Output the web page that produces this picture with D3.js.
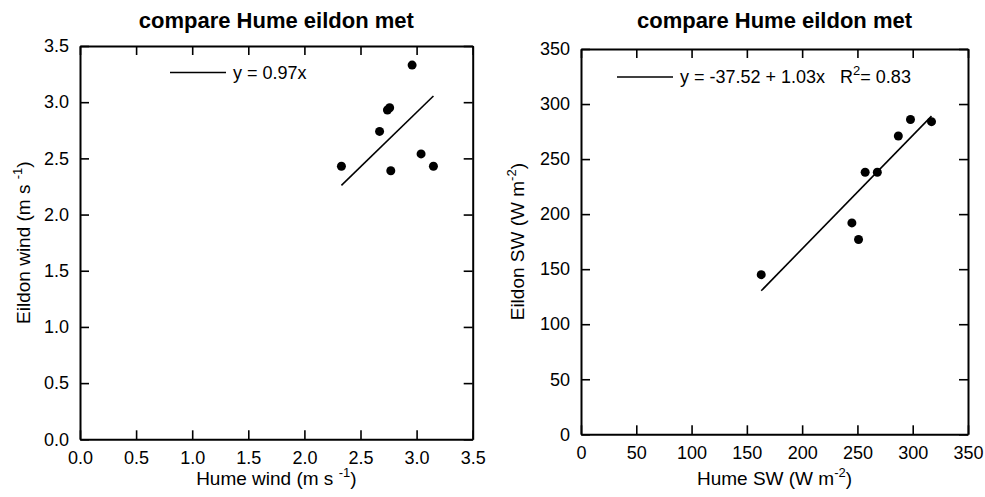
<!DOCTYPE html>
<html>
<head>
<meta charset="utf-8">
<script src="https://cdn.jsdelivr.net/npm/d3@7"></script>
<style>
  body { margin: 0; background: #fff; }
  svg { display: block; font-family: "Liberation Sans", Arial, sans-serif; }
  text { white-space: pre; }
</style>
</head>
<body>
<svg id="chart" width="985" height="497"></svg>
<script>
// ---- data ----
const windHume   = [2.33, 2.67, 2.74, 2.76, 2.96, 2.77, 3.04, 3.15];
const windEildon = [2.43, 2.74, 2.93, 2.95, 3.33, 2.39, 2.54, 2.43];
const windSlope = 0.97;
const windTicks = [0, 0.5, 1.0, 1.5, 2.0, 2.5, 3.0, 3.5];

const swHume   = [163, 245, 251, 257, 268, 287, 298, 317];
const swEildon = [145, 192, 177, 238, 238, 271, 286, 284];
const swIntercept = -37.52;
const swSlope = 1.03;
const swR2 = "0.83";
const swTicks = [0, 50, 100, 150, 200, 250, 300, 350];

const titleText = "compare Hume eildon met";

const svg = d3.select("#chart");

function panel(opts) {
  const g = svg.append("g");
  const x = d3.scaleLinear().domain(opts.domain).range([opts.x0, opts.x1]);
  const y = d3.scaleLinear().domain(opts.domain).range([opts.y1, opts.y0]);
  const tickLen = 9;

  const styleAxis = sel => {
    sel.select(".domain").attr("stroke", "#000").attr("stroke-width", 2);
    sel.selectAll(".tick line").attr("stroke", "#000").attr("stroke-width", 1.6);
    sel.selectAll(".tick text").attr("fill", "#000").style("font-size", "18px")
       .style("font-family", "'Liberation Sans', Arial, sans-serif");
  };

  g.append("g").attr("transform", `translate(0,${opts.y1})`)
    .call(d3.axisBottom(x).tickValues(opts.ticks).tickFormat(opts.fmt)
      .tickSizeInner(-tickLen).tickSizeOuter(0).tickPadding(12))
    .call(styleAxis);
  g.append("g").attr("transform", `translate(${opts.x0},0)`)
    .call(d3.axisLeft(y).tickValues(opts.ticks).tickFormat(opts.fmt)
      .tickSizeInner(-tickLen).tickSizeOuter(0).tickPadding(11))
    .call(styleAxis);
  g.append("g").attr("transform", `translate(0,${opts.y0})`)
    .call(d3.axisTop(x).tickValues(opts.ticks).tickFormat("")
      .tickSizeInner(-tickLen).tickSizeOuter(0))
    .call(styleAxis);
  g.append("g").attr("transform", `translate(${opts.x1},0)`)
    .call(d3.axisRight(y).tickValues(opts.ticks).tickFormat("")
      .tickSizeInner(-tickLen).tickSizeOuter(0))
    .call(styleAxis);

  const cx = (opts.x0 + opts.x1) / 2;
  const cy = (opts.y0 + opts.y1) / 2;

  // title
  g.append("text").attr("x", cx).attr("y", 28).attr("text-anchor", "middle")
    .style("font-size", "22px").style("font-weight", "bold").text(titleText);

  // x label
  const xl = g.append("text").attr("x", cx).attr("y", 485).attr("text-anchor", "middle")
    .style("font-size", "19px");
  xl.append("tspan").text(opts.xlabel);
  xl.append("tspan").attr("dy", -8).style("font-size", "13px").text(opts.sup);
  xl.append("tspan").attr("dy", 8).text(")");

  // y label
  const yl = g.append("text").attr("transform", `translate(${opts.ylx},${cy}) rotate(-90)`)
    .attr("text-anchor", "middle").style("font-size", "19px");
  yl.append("tspan").text(opts.ylabel);
  yl.append("tspan").attr("dy", -8).style("font-size", "13px").text(opts.sup);
  yl.append("tspan").attr("dy", 8).text(")");

  // fit line
  const xs = opts.xv;
  const xmin = d3.min(xs), xmax = d3.max(xs);
  g.append("line")
    .attr("x1", x(xmin)).attr("y1", y(opts.fit(xmin)))
    .attr("x2", x(xmax)).attr("y2", y(opts.fit(xmax)))
    .attr("stroke", "#000").attr("stroke-width", 1.6);

  // points
  g.selectAll("circle.pt").data(xs.map((v, i) => [v, opts.yv[i]])).join("circle")
    .attr("class", "pt")
    .attr("cx", d => x(d[0])).attr("cy", d => y(d[1])).attr("r", 4.5).attr("fill", "#000");

  // legend
  g.append("line").attr("x1", opts.legX).attr("x2", opts.legX + 56)
    .attr("y1", opts.legY).attr("y2", opts.legY).attr("stroke", "#000").attr("stroke-width", 1.6);
  const lt = g.append("text").attr("x", opts.legX + 63).attr("y", opts.legY + 6)
    .style("font-size", "18px").attr("xml:space", "preserve");
  opts.legend(lt);
}

panel({
  domain: [0, 3.5], ticks: windTicks, fmt: d3.format(".1f"),
  x0: 80, x1: 472.7, y0: 46, y1: 439.3,
  xv: windHume, yv: windEildon,
  fit: v => windSlope * v,
  xlabel: "Hume wind (m s ", ylabel: "Eildon wind (m s ", sup: "-1", ylx: 30,
  legX: 170, legY: 72.5,
  legend: t => t.text("y = " + windSlope + "x")
});

panel({
  domain: [0, 350], ticks: swTicks, fmt: d3.format("d"),
  x0: 581, x1: 968, y0: 49, y1: 434.3,
  xv: swHume, yv: swEildon,
  fit: v => swIntercept + swSlope * v,
  xlabel: "Hume SW (W m", ylabel: "Eildon SW (W m", sup: "-2", ylx: 524,
  legX: 617, legY: 77,
  legend: t => {
    t.append("tspan").text("y = " + swIntercept + " + " + swSlope + "x   R");
    t.append("tspan").attr("dy", -8).style("font-size", "13px").text("2");
    t.append("tspan").attr("dy", 8).text("= " + swR2);
  }
});
</script>
</body>
</html>
